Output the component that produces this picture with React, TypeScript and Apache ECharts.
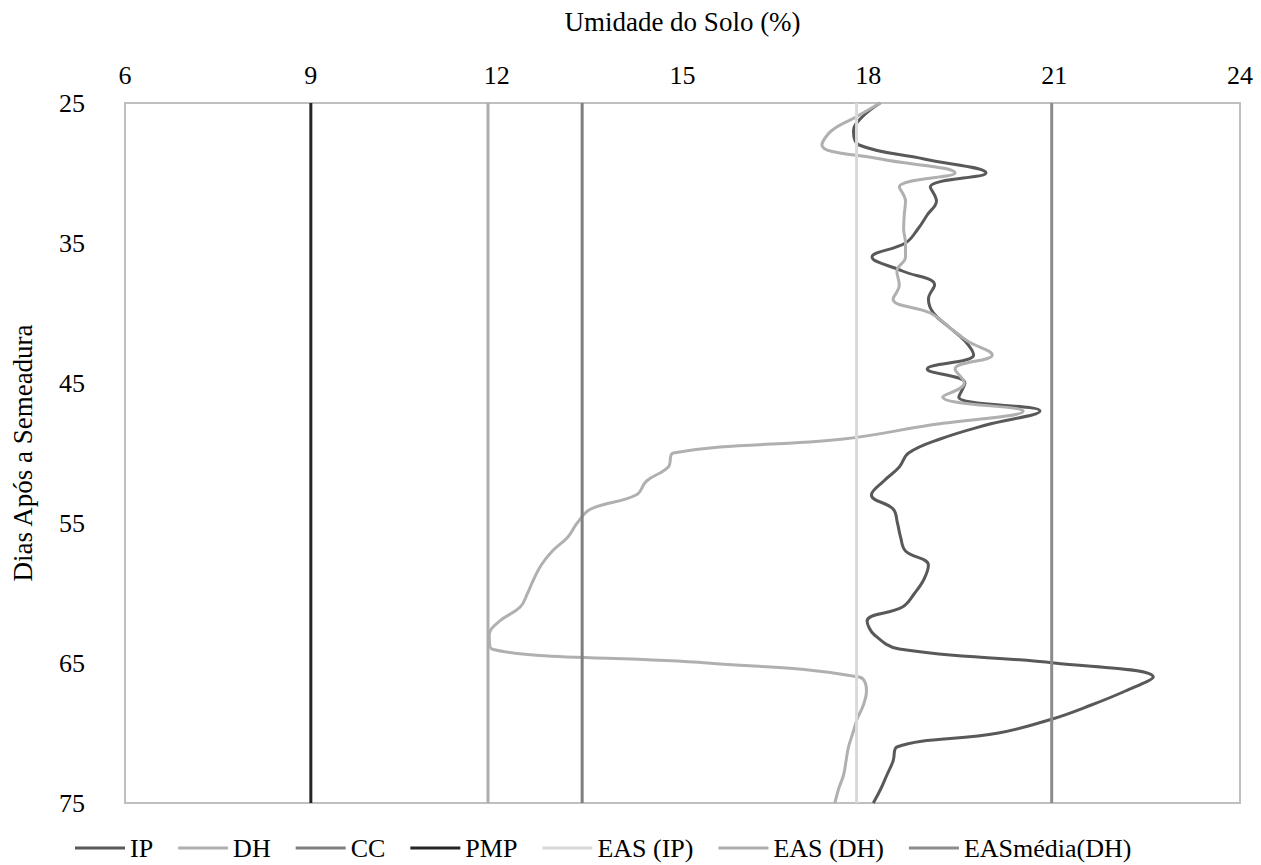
import React, { useEffect, useRef } from "react";
import * as echarts from "echarts";

const days = [25, 26, 27, 28, 29, 30, 31, 32, 33, 34, 35, 36, 37, 38, 39, 40, 41, 42, 43, 44, 45, 46, 47, 48, 49, 50, 51, 52, 53, 54, 55, 56, 57, 58, 59, 60, 61, 62, 63, 64, 65, 66, 67, 68, 69, 70, 71, 72, 73, 74, 75];

const ipValues = [18.19, 17.9, 17.76, 17.85, 18.9, 19.9, 19.0, 19.1, 18.95, 18.8, 18.6, 18.06, 18.55, 19.07, 18.97, 19.05, 19.3, 19.56, 19.7, 18.95, 19.56, 19.46, 20.77, 19.9, 19.16, 18.65, 18.5, 18.25, 18.05, 18.4, 18.47, 18.52, 18.6, 18.97, 18.9, 18.75, 18.55, 17.98, 18.1, 18.5, 21.0, 22.6, 22.15, 21.6, 20.97, 20.1, 18.46, 18.4, 18.3, 18.2, 18.08];

const dhValues = [18.19, 17.8, 17.4, 17.25, 18.2, 19.4, 18.5, 18.6, 18.58, 18.57, 18.6, 18.6, 18.46, 18.5, 18.4, 19.0, 19.3, 19.6, 20.0, 19.4, 19.55, 19.2, 20.5, 19.0, 17.6, 14.85, 14.77, 14.42, 14.25, 13.52, 13.3, 13.15, 12.9, 12.72, 12.6, 12.5, 12.38, 12.05, 11.88, 11.92, 15.4, 17.85, 17.97, 17.92, 17.82, 17.75, 17.68, 17.64, 17.6, 17.52, 17.46];

const ccValue = 13.38;
const pmpValue = 9.0;
const easIpValue = 17.81;
const easDhValue = 11.86;
const easMediaDhValue = 20.96;

const dayRange = [25, 75];
const xTicks = [6, 24, 3];

const FONT = '"Liberation Serif", "Times New Roman", serif';

function vLine(name: string, value: number, color: string) {
  return {
    name,
    type: "line",
    data: dayRange.map((d) => [value, d]),
    symbol: "none",
    color,
    lineStyle: { width: 3, color },
  };
}

export default function App() {
  const ref = useRef<HTMLDivElement>(null);
  useEffect(() => {
    if (!ref.current) return;
    const chart = echarts.init(ref.current, undefined, { renderer: "svg" });
    const option = {
      animation: false,
      backgroundColor: "#ffffff",
      grid: {
        left: 125,
        right: 21,
        top: 103,
        bottom: 62,
        show: true,
        borderColor: "#BFBFBF",
        borderWidth: 2,
      },
      legend: {
        left: 75,
        top: 834,
        padding: 0,
        icon: "rect",
        itemWidth: 50,
        itemHeight: 3,
        itemGap: 25,
        textStyle: { fontFamily: FONT, fontSize: 26, lineHeight: 28, color: "#000" },
        data: ["IP", "DH", "CC", "PMP", "EAS (IP)", "EAS (DH)", "EASmédia(DH)"],
      },
      xAxis: {
        type: "value",
        position: "top",
        min: xTicks[0],
        max: xTicks[1],
        interval: xTicks[2],
        name: "Umidade do Solo (%)",
        nameLocation: "middle",
        nameGap: 68,
        nameTextStyle: { fontFamily: FONT, fontSize: 27, color: "#000" },
        axisLine: { show: false },
        axisTick: { show: false },
        splitLine: { show: false },
        axisLabel: { fontFamily: FONT, fontSize: 26, color: "#000", margin: 15 },
      },
      yAxis: {
        type: "value",
        inverse: true,
        min: dayRange[0],
        max: dayRange[1],
        interval: 10,
        name: "Dias Após a Semeadura",
        nameLocation: "middle",
        nameRotate: 90,
        nameGap: 89,
        nameTextStyle: { fontFamily: FONT, fontSize: 27, color: "#000" },
        axisLine: { show: false },
        axisTick: { show: false },
        splitLine: { show: false },
        axisLabel: { fontFamily: FONT, fontSize: 26, color: "#000", margin: 40 },
      },
      series: [
        {
          name: "IP",
          type: "line",
          data: days.map((d, i) => [ipValues[i], d]),
          smooth: 0.4,
          symbol: "none",
          color: "#595959",
          lineStyle: { width: 3, color: "#595959" },
        },
        {
          name: "DH",
          type: "line",
          data: days.map((d, i) => [dhValues[i], d]),
          smooth: 0.4,
          symbol: "none",
          color: "#B0B0B0",
          lineStyle: { width: 3, color: "#B0B0B0" },
        },
        vLine("CC", ccValue, "#7F7F7F"),
        vLine("PMP", pmpValue, "#262626"),
        vLine("EAS (IP)", easIpValue, "#D9D9D9"),
        vLine("EAS (DH)", easDhValue, "#ADADAD"),
        vLine("EASmédia(DH)", easMediaDhValue, "#8C8C8C"),
      ],
    };
    chart.setOption(option as any);
    return () => chart.dispose();
  }, []);
  return (
    <div
      ref={ref}
      style={{ position: "fixed", left: 0, top: 0, width: 1261, height: 865 }}
    />
  );
}
